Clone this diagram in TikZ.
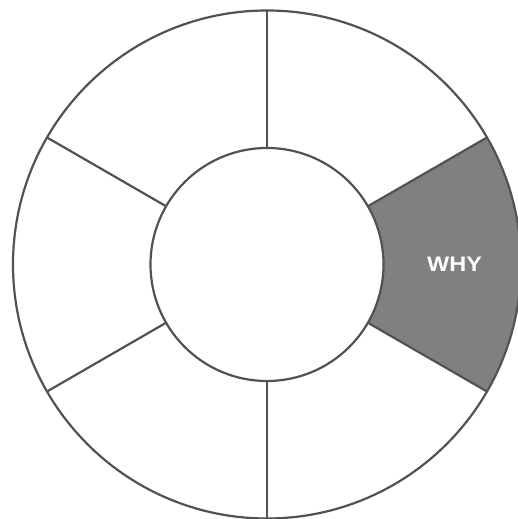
\documentclass[tikz,border=0pt]{standalone}
\usepackage{fontspec}
\setmainfont{Liberation Sans}
\begin{document}
\begin{tikzpicture}[x=1pt,y=1pt,
  ring/.style={draw=black!68,line width=2.2pt},
  spoke/.style={draw=black!68,line width=2.2pt},
  label/.style={text=white,font=\bfseries\fontsize{21}{21}\selectfont,xscale=1.12,inner sep=0pt}]
\useasboundingbox (0,0) rectangle (518,519);
\clip (0,0) rectangle (518,519);
\coordinate (c) at (267,254.5);
\def\Ri{116.5}
\def\Ro{254}
% shaded sector
\fill[black!50] ([shift={(-30:\Ri)}]c) -- ([shift={(-30:\Ro)}]c) arc[start angle=-30,end angle=30,radius=\Ro] -- ([shift={(30:\Ri)}]c) arc[start angle=30,end angle=-30,radius=\Ri] -- cycle;
% spokes
\foreach \a in {30,90,150,210,270,330}{
  \draw[spoke] ([shift={(\a:\Ri)}]c) -- ([shift={(\a:\Ro)}]c);
}
\draw[ring] (c) circle[radius=\Ro];
\draw[ring] (c) circle[radius=\Ri];
\node[label] (why) at (454.5,255) {WHY};
\end{tikzpicture}
\end{document}
